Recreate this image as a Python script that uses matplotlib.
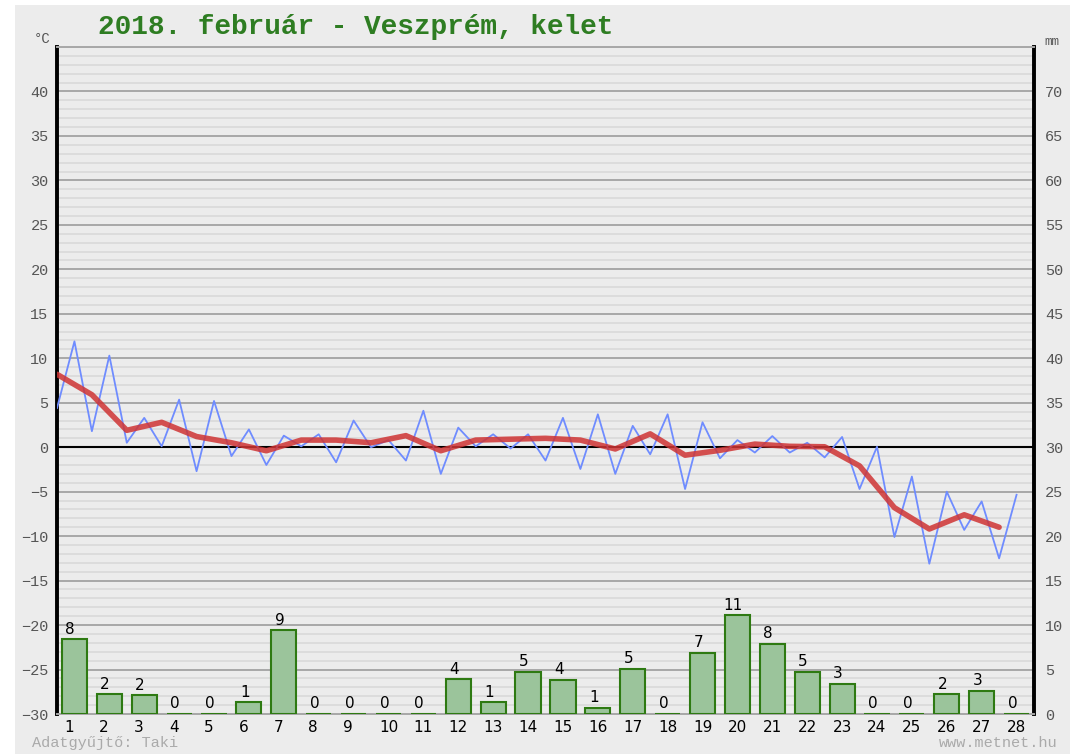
import numpy as np
import matplotlib
matplotlib.use("Agg")
import matplotlib.pyplot as plt
from matplotlib.patches import Rectangle
from matplotlib.transforms import blended_transform_factory

# napok
days = list(range(1, 29))

# csapadék (mm) naponta
precip = [8.4, 2.2, 2.1, 0, 0, 1.3, 9.4, 0, 0, 0, 0, 3.9, 1.3, 4.7,
          3.8, 0.7, 5.1, 0, 6.9, 11.1, 7.9, 4.7, 3.4, 0, 0, 2.2, 2.6, 0]

# hőmérséklet félnaponta (°C)
temp_half = [4.4, 11.9, 1.8, 10.3, 0.5, 3.3, 0.1, 5.35, -2.7, 5.2,
             -1.0, 2.0, -2.0, 1.3, 0.1, 1.45, -1.7, 3.0, 0.0, 0.8,
             -1.5, 4.1, -3.0, 2.2, 0.1, 1.45, -0.15, 1.45, -1.5, 3.3,
             -2.45, 3.7, -3.0, 2.4, -0.8, 3.7, -4.7, 2.8, -1.25, 0.8,
             -0.6, 1.25, -0.6, 0.5, -1.15, 1.15, -4.7, 0.05, -10.1, -3.3,
             -13.1, -5.0, -9.3, -6.1, -12.5, -5.35]

# napi középhőmérséklet (°C)
temp_mean = [8.2, 5.9, 1.9, 2.8, 1.2, 0.5, -0.4, 0.8, 0.8, 0.5,
             1.3, -0.4, 0.8, 0.9, 1.0, 0.8, -0.2, 1.5, -0.9, -0.35,
             0.35, 0.1, 0.05, -2.1, -6.8, -9.2, -7.6, -9.0]

title = "2018. február - Veszprém, kelet"

BG = "#ececec"
MONO = ["Liberation Mono", "DejaVu Sans Mono"]
GREEN = "#2e7d22"
TICK = "#555555"

fig = plt.figure(figsize=(10.75, 7.54), dpi=100, facecolor="white")
fig.patches.append(Rectangle((15 / 1075, 0), (1070 - 15) / 1075, 1 - 5 / 754,
                             transform=fig.transFigure, facecolor=BG,
                             edgecolor="none", zorder=-5))

ax = fig.add_axes([57 / 1075, 40 / 754, (1034 - 57) / 1075, (714 - 47) / 754])
ax.set_facecolor(BG)
ax.set_xlim(0.5, 28.5)
ax.set_ylim(-30, 45)

# rácsvonalak
for v in range(-30, 46):
    if v == 0:
        continue
    if v % 5 == 0:
        ax.axhline(v, color="#a8a8a8", lw=1.4, zorder=1)
    else:
        ax.axhline(v, color="#dcdcdc", lw=1.4, zorder=1)
ax.axhline(0, color="black", lw=1.5, zorder=2)

ax.set_yticks(range(-30, 41, 5))
ax.set_xticks([])
ax.tick_params(axis="y", length=0, pad=6, labelsize=11, labelcolor=TICK)
for lab in ax.get_yticklabels():
    lab.set_family(MONO)

for s in ("left", "right"):
    ax.spines[s].set_linewidth(2.8)
    ax.spines[s].set_color("black")
for s in ("top", "bottom"):
    ax.spines[s].set_linewidth(1.4)
    ax.spines[s].set_color("#a8a8a8")

# hőmérséklet
t_half = 0.5 + 0.5 * np.arange(len(temp_half))
ax.plot(t_half, temp_half, color="#6f8cff", lw=1.3, zorder=4)
ax.plot(t_half[::2], temp_mean, color="#cf3434", lw=4, alpha=0.85,
        solid_capstyle="round", solid_joinstyle="round", zorder=5)

# csapadék a jobb tengelyen
ax2 = ax.twinx()
ax2.set_ylim(0, 75)
ax2.set_yticks(range(0, 71, 5))
ax2.tick_params(axis="y", length=0, pad=8, labelsize=11, labelcolor=TICK)
for lab in ax2.get_yticklabels():
    lab.set_family(MONO)
for s in ax2.spines.values():
    s.set_visible(False)

ax2.bar(days, precip, width=0.72, bottom=0, color="#9bc49b",
        edgecolor="#2e7a12", linewidth=1.5, zorder=3)
for d, p in zip(days, precip):
    ax2.annotate(f"{int(round(p))}", xy=(d, p), xytext=(-3, 2),
                 textcoords="offset points", ha="center", va="bottom",
                 fontsize=11, family="DejaVu Sans", color="black")

# napok felirata
tr = blended_transform_factory(ax.transData, ax.transAxes)
for d in days:
    dx = -4 if d < 10 else 0
    ax.annotate(str(d), xy=(d, 0), xycoords=tr, xytext=(dx, -4),
                textcoords="offset points", ha="center", va="top",
                fontsize=11, family="DejaVu Sans", color="black",
                annotation_clip=False)

fig.text(98 / 1075, 1 - 27 / 754, title, family=MONO, fontsize=20,
         fontweight="bold", color=GREEN, va="center", ha="left")
fig.text(42 / 1075, 1 - 39 / 754, "°C", family=MONO, fontsize=10,
         color=TICK, va="center", ha="center")
fig.text(1052 / 1075, 1 - 42 / 754, "mm", family=MONO, fontsize=9,
         color=TICK, va="center", ha="center")
fig.text(32 / 1075, 1 - 743 / 754, "Adatgyűjtő: Taki", family=MONO,
         fontsize=11, color="#aaaaaa", va="center", ha="left")
fig.text(1058 / 1075, 1 - 743 / 754, "www.metnet.hu", family=MONO,
         fontsize=11, color="#aaaaaa", va="center", ha="right")

fig.savefig("out.png", dpi=100, facecolor="white")
